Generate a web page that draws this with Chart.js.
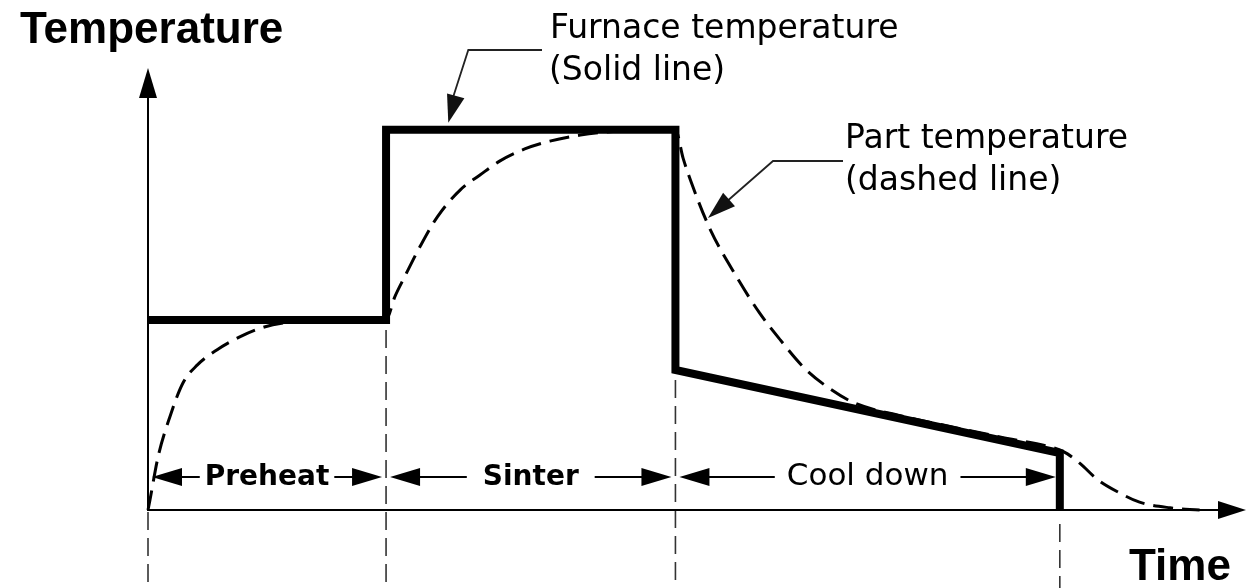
<!DOCTYPE html>
<html><head><meta charset="utf-8">
<script src="https://cdn.jsdelivr.net/npm/chart.js@4"></script>
<style>html,body{margin:0;padding:0;background:#fff;overflow:hidden}#wrap{width:1253px;height:588px;position:relative}</style>
</head><body><div id="wrap"><canvas id="c"></canvas></div>
<script>
// ---- data (time in arbitrary units, temperature in arbitrary units) ----
const furnaceTime = [0, 21.8, 21.8, 48.3, 48.3, 83.5, 83.5];
const furnaceTemp = [43.7, 43.7, 87.4, 87.4, 32.2, 13.1, 0];

const partTime = [0, 0.18, 0.92, 2.0, 3.2, 4.5, 6.3, 8.4, 10.3, 12.4, 14.8, 18.5, 21.8,
  22.6, 23.5, 24.9, 26.5, 28.6, 30.4, 32.2, 34.5, 36.8, 39.6, 43.2, 48.3,
  49.0, 49.9, 51.5, 53.9, 56.0, 57.9, 60.0, 62.2, 64.7, 68.9, 74.4, 78.0, 83.5,
  84.2, 85.4, 86.9, 89.0, 90.8, 93.6, 96.3];
const partTemp = [0, 2.3, 12.2, 21.4, 29.2, 33.3, 36.8, 39.8, 41.8, 43.0, 43.4, 43.6, 43.7,
  49.0, 53.6, 60.5, 67.4, 73.6, 77.0, 80.2, 83.0, 84.8, 86.2, 87.1, 87.4,
  80.9, 74.3, 64.4, 53.6, 45.3, 39.1, 32.9, 28.3, 24.6, 21.7, 18.7, 16.8, 13.8,
  12.9, 10.6, 7.1, 3.9, 1.8, 0.5, 0];

const phaseNames = ['Preheat', 'Sinter', 'Cool down'];
const phaseBounds = [0, 21.8, 48.3, 83.5];

const yAxisLabel = 'Temperature';
const xAxisLabel = 'Time';
const furnaceNote = ['Furnace temperature', '(Solid line)'];
const partNote = ['Part temperature', '(dashed line)'];

// ---- drawing helpers ----
function arrowHead(ctx, tx, ty, fx, fy, len, half) {
  const a = Math.atan2(ty - fy, tx - fx);
  const bx = tx - len * Math.cos(a), by = ty - len * Math.sin(a);
  ctx.beginPath();
  ctx.moveTo(tx, ty);
  ctx.lineTo(bx + half * Math.sin(a), by - half * Math.cos(a));
  ctx.lineTo(bx - half * Math.sin(a), by + half * Math.cos(a));
  ctx.closePath();
  ctx.fill();
}

const schematic = {
  id: 'schematic',
  beforeDatasetsDraw(chart) {
    const ctx = chart.ctx, xs = chart.scales.x, ys = chart.scales.y;
    const x0 = xs.getPixelForValue(0), y0 = ys.getPixelForValue(0);
    ctx.save();
    // vertical dashed phase boundary lines
    ctx.strokeStyle = '#333';
    ctx.lineWidth = 1.6;
    ctx.setLineDash([18, 8]);
    phaseBounds.forEach((b) => {
      const px = xs.getPixelForValue(b);
      let low = Infinity;
      furnaceTime.forEach((t, k) => { if (Math.abs(t - b) < 1e-6) low = Math.min(low, furnaceTemp[k]); });
      const top = (low === Infinity || low <= 0) ? y0 + 14 : ys.getPixelForValue(low) + 10;
      ctx.beginPath();
      ctx.moveTo(px, top);
      ctx.lineTo(px, chart.height);
      ctx.stroke();
    });
    ctx.setLineDash([]);
    // axes with arrows
    ctx.strokeStyle = '#000';
    ctx.fillStyle = '#000';
    ctx.lineWidth = 2;
    const yTip = ys.top - 7, xTip = xs.right + 6;
    ctx.beginPath();
    ctx.moveTo(x0, y0 + 1); ctx.lineTo(x0, yTip + 20);
    ctx.moveTo(x0 - 1, y0); ctx.lineTo(xTip - 20, y0);
    ctx.stroke();
    arrowHead(ctx, x0, yTip, x0, y0, 30, 9);
    arrowHead(ctx, xTip, y0, x0, y0, 28, 9);
    ctx.restore();
  },
  afterDatasetsDraw(chart) {
    const ctx = chart.ctx, xs = chart.scales.x, ys = chart.scales.y;
    ctx.save();
    ctx.fillStyle = '#000';
    ctx.strokeStyle = '#000';
    ctx.textBaseline = 'alphabetic';
    // axis labels
    ctx.font = 'bold 44px "Liberation Sans", Arial, sans-serif';
    ctx.textAlign = 'left';
    ctx.fillText(yAxisLabel, 20, 43);
    ctx.fillText(xAxisLabel, 1129, 580);
    // notes
    ctx.font = '33px "DejaVu Sans", sans-serif';
    ctx.fillText(furnaceNote[0], 550, 38);
    ctx.fillText(furnaceNote[1], 549, 80);
    ctx.fillText(partNote[0], 845, 148);
    ctx.fillText(partNote[1], 845, 190);
    // leader arrows
    ctx.lineWidth = 1.8;
    ctx.strokeStyle = '#222';
    ctx.fillStyle = '#111';
    const fTip = { x: xs.getPixelForValue(27.5), y: ys.getPixelForValue(furnaceTemp[2]) - 7 };
    ctx.beginPath();
    ctx.moveTo(542, 50); ctx.lineTo(fTip.x + 20, 50); ctx.lineTo(fTip.x + 3, fTip.y - 20);
    ctx.stroke();
    arrowHead(ctx, fTip.x, fTip.y, fTip.x + 20, 50, 28, 9);
    const pTip = { x: 708, y: 218 };
    ctx.beginPath();
    ctx.moveTo(843, 161); ctx.lineTo(773, 161); ctx.lineTo(pTip.x + 17, pTip.y - 15);
    ctx.stroke();
    arrowHead(ctx, pTip.x, pTip.y, 773, 161, 28, 9);
    // phase annotations
    const ay = 477;
    const gaps = [5, 16, 12];
    ctx.strokeStyle = '#000';
    ctx.fillStyle = '#000';
    ctx.lineWidth = 2;
    phaseNames.forEach((name, i) => {
      const L = xs.getPixelForValue(phaseBounds[i]);
      const R = xs.getPixelForValue(phaseBounds[i + 1]);
      const c = (L + R) / 2;
      ctx.font = (i === 2 ? '31px' : 'bold 28px') + ' "DejaVu Sans", sans-serif';
      const w = ctx.measureText(name).width;
      ctx.textAlign = 'center';
      ctx.fillText(name, c, 485);
      const tl = c - w / 2 - gaps[i], tr = c + w / 2 + gaps[i];
      ctx.beginPath();
      ctx.moveTo(L + 20, ay); ctx.lineTo(tl, ay);
      ctx.moveTo(tr, ay); ctx.lineTo(R - 20, ay);
      ctx.stroke();
      arrowHead(ctx, L + 4, ay, tl, ay, 30, 9);
      arrowHead(ctx, R - 4, ay, tr, ay, 30, 9);
    });
    ctx.restore();
  }
};

new Chart(document.getElementById('c'), {
  type: 'line',
  data: {
    datasets: [
      {
        label: 'Furnace temperature',
        data: furnaceTime.map((t, i) => ({ x: t, y: furnaceTemp[i] })),
        borderColor: '#000',
        borderWidth: 8,
        borderJoinStyle: 'miter',
        borderCapStyle: 'butt',
        pointRadius: 0,
        tension: 0,
        clip: 12,
        order: 1
      },
      {
        label: 'Part temperature',
        data: partTime.map((t, i) => ({ x: t, y: partTemp[i] })),
        borderColor: '#000',
        borderWidth: 3,
        borderDash: [20, 9],
        pointRadius: 0,
        cubicInterpolationMode: 'monotone',
        clip: 12,
        order: 2
      }
    ]
  },
  options: {
    responsive: true,
    maintainAspectRatio: false,
    animation: false,
    events: [],
    layout: { padding: { left: 148, right: 13, top: 75, bottom: 78 } },
    plugins: { legend: { display: false }, tooltip: { enabled: false }, title: { display: false } },
    scales: {
      x: { type: 'linear', min: 0, max: 100, display: false },
      y: { type: 'linear', min: 0, max: 100, display: false }
    }
  },
  plugins: [schematic]
});
</script>
</body></html>
